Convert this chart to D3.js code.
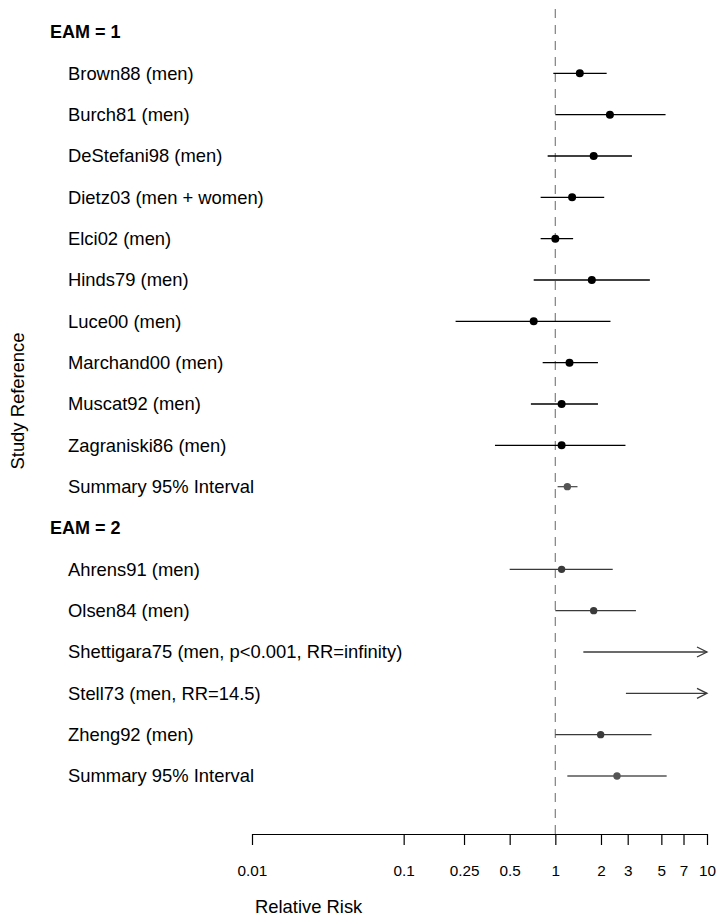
<!DOCTYPE html>
<html>
<head>
<meta charset="utf-8">
<script src="https://cdn.jsdelivr.net/npm/d3@7"></script>
<style>
  html, body { margin: 0; padding: 0; background: #fff; }
  svg { display: block; font-family: "Liberation Sans", Arial, Helvetica, sans-serif; }
</style>
</head>
<body>
<svg id="chart" width="719" height="918"></svg>
<script>
// ---- data ----
const rowLabels = [
  "EAM = 1",
  "Brown88 (men)",
  "Burch81 (men)",
  "DeStefani98 (men)",
  "Dietz03 (men + women)",
  "Elci02 (men)",
  "Hinds79 (men)",
  "Luce00 (men)",
  "Marchand00 (men)",
  "Muscat92 (men)",
  "Zagraniski86 (men)",
  "Summary 95% Interval",
  "EAM = 2",
  "Ahrens91 (men)",
  "Olsen84 (men)",
  "Shettigara75 (men, p<0.001, RR=infinity)",
  "Stell73 (men, RR=14.5)",
  "Zheng92 (men)",
  "Summary 95% Interval"
];
const rowType = ["header","study","study","study","study","study","study","study","study","study","study","summary",
                 "header","study","study","study","study","study","summary"];
const rowGroup = [1,1,1,1,1,1,1,1,1,1,1,1,2,2,2,2,2,2,2];
const estimate = [null,1.45,2.29,1.79,1.29,1.00,1.74,0.72,1.24,1.10,1.10,1.20,
                  null,1.10,1.79,Infinity,14.5,1.99,2.55];
const lower    = [null,0.97,1.00,0.89,0.80,0.80,0.72,0.22,0.825,0.69,0.40,1.035,
                  null,0.50,1.00,1.53,2.92,1.00,1.20];
const upper    = [null,2.18,5.33,3.20,2.10,1.31,4.20,2.31,1.91,1.91,2.90,1.40,
                  null,2.39,3.40,Infinity,Infinity,4.31,5.42];
const tickValues = [0.01,0.1,0.25,0.5,1,2,3,5,7,10];
const tickLabels = ["0.01","0.1","0.25","0.5","1","2","3","5","7","10"];

// ---- layout ----
const svg = d3.select("#chart");
const x = d3.scaleLog().domain([0.01, 10]).range([252, 707]);
const y = d3.scalePoint().domain(d3.range(rowLabels.length)).range([32, 776]);
const axisY = 834;

const colorFor = i => rowType[i] === "summary" ? "#555" : (rowGroup[i] === 2 ? "#3a3a3a" : "#000");

// reference line at RR = 1
svg.append("line")
  .attr("x1", x(1)).attr("x2", x(1))
  .attr("y1", 9).attr("y2", axisY)
  .attr("stroke", "#8a8a8a").attr("stroke-width", 1.3)
  .attr("stroke-dasharray", "9,7");

// labels
svg.append("g").selectAll("text")
  .data(rowLabels)
  .join("text")
  .attr("x", (d, i) => rowType[i] === "header" ? 50 : 68)
  .attr("y", (d, i) => y(i))
  .attr("dy", "0.35em")
  .attr("font-size", (d, i) => rowType[i] === "header" ? "18px" : "18.4px")
  .attr("font-weight", (d, i) => rowType[i] === "header" ? "bold" : "normal")
  .attr("fill", "#000")
  .text(d => d);

const idx = d3.range(rowLabels.length).filter(i => rowType[i] !== "header");
const xmax = x.domain()[1];

// intervals
svg.append("g").selectAll("line")
  .data(idx)
  .join("line")
  .attr("x1", i => x(Math.max(lower[i], 0.01)))
  .attr("x2", i => x(Math.min(upper[i], xmax)))
  .attr("y1", i => y(i)).attr("y2", i => y(i))
  .attr("stroke", colorFor)
  .attr("stroke-width", 1.3);

// arrows for truncated intervals
const arrowRows = idx.filter(i => upper[i] > xmax);
svg.append("g").selectAll("path")
  .data(arrowRows)
  .join("path")
  .attr("d", i => {
    const ex = x(xmax), cy = y(i);
    return `M${ex - 10},${cy - 5}L${ex},${cy}L${ex - 10},${cy + 5}`;
  })
  .attr("fill", "none")
  .attr("stroke", colorFor)
  .attr("stroke-width", 1.3);

// point estimates (only those within range)
const pointRows = idx.filter(i => isFinite(estimate[i]) && estimate[i] <= xmax);
svg.append("g").selectAll("circle")
  .data(pointRows)
  .join("circle")
  .attr("cx", i => x(estimate[i]))
  .attr("cy", i => y(i))
  .attr("r", i => rowGroup[i] === 1 && rowType[i] !== "summary" ? 4 : 3.7)
  .attr("fill", colorFor);

// x axis
const axis = d3.axisBottom(x)
  .tickValues(tickValues)
  .tickFormat((d, i) => tickLabels[i])
  .tickSizeInner(11)
  .tickSizeOuter(0)
  .tickPadding(20);
const gAxis = svg.append("g")
  .attr("transform", `translate(0,${axisY})`)
  .call(axis);
gAxis.select(".domain").attr("stroke", "#000").attr("stroke-width", 1.2);
gAxis.selectAll(".tick line").attr("stroke", "#000").attr("stroke-width", 1.2);
gAxis.selectAll(".tick text")
  .attr("font-size", "15.3px")
  .attr("font-family", "Liberation Sans, Arial, sans-serif")
  .attr("fill", "#000");

// axis titles
svg.append("text")
  .attr("x", 255).attr("y", 913)
  .attr("font-size", "18.4px")
  .attr("fill", "#000")
  .text("Relative Risk");

svg.append("text")
  .attr("transform", "translate(24,401) rotate(-90)")
  .attr("text-anchor", "middle")
  .attr("font-size", "18.4px")
  .attr("fill", "#000")
  .text("Study Reference");
</script>
</body>
</html>
